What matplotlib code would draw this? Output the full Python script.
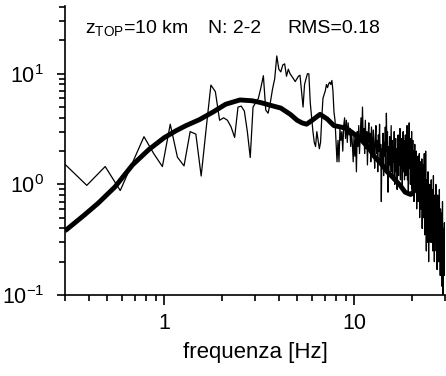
"""Spectrum comparison plot: observed (thin) vs model (thick), log-log."""

import matplotlib
matplotlib.use("Agg")
import matplotlib.pyplot as plt
import numpy as np
from matplotlib.ticker import FixedLocator, FixedFormatter, NullFormatter

plt.rcParams["font.family"] = ["Liberation Sans", "DejaVu Sans"]
plt.rcParams["mathtext.fontset"] = "custom"
plt.rcParams["mathtext.rm"] = "Liberation Sans"
plt.rcParams["mathtext.it"] = "Liberation Sans:italic"

# observed spectrum, sampled every df Hz (k = 3 .. 307)
df = 0.09765625
obs_freq = np.arange(3, 308) * df
obs_amp = [
    1.58, 0.98, 1.45, 0.88, 1.6, 2.7, 1.9, 1.45, 3.5, 1.76,
    1.47, 3.0, 2.85, 1.19, 3.2, 7.9, 6.9, 3.8, 4.0, 3.8,
    3.3, 2.66, 5.0, 5.1, 4.6, 3.0, 1.75, 5.0, 5.5, 6.0,
    7.5, 9.6, 4.7, 4.4, 5.5, 7.3, 9.0, 14.5, 11.0, 10.4,
    12.0, 12.3, 9.5, 11.0, 10.0, 9.5, 9.0, 8.5, 9.0, 9.5,
    9.7, 7.0, 5.0, 8.0, 9.0, 10.0, 10.0, 5.5, 4.0, 3.0,
    2.4, 2.2, 3.0, 2.5, 2.1, 2.4, 4.0, 6.0, 6.5, 7.0,
    8.0, 7.5, 8.1, 8.4, 8.0, 8.7, 7.0, 4.5, 3.8, 2.4,
    1.6, 2.5, 1.6, 3.2, 2.5, 3.0, 2.0, 3.4, 4.0, 2.6,
    3.8, 2.4, 3.6, 2.8, 3.2, 2.2, 3.0, 2.3, 1.6, 2.8,
    1.8, 2.6, 1.3, 3.0, 2.2, 3.4, 1.9, 2.8, 4.0, 2.4,
    5.0, 2.6, 3.2, 1.9, 3.8, 2.1, 3.0, 1.5, 2.7, 3.6,
    2.0, 2.9, 1.6, 3.3, 2.4, 1.8, 3.1, 2.2, 1.4, 2.6,
    3.4, 1.9, 2.5, 1.3, 2.8, 2.0, 3.5, 1.6, 2.3, 0.7,
    2.1, 1.5, 2.9, 1.2, 2.4, 1.8, 3.3, 1.4, 4.4, 2.0,
    3.0, 0.85, 2.2, 1.5, 2.7, 1.2, 2.0, 3.4, 1.3, 2.5,
    1.1, 2.2, 1.6, 3.0, 1.0, 1.9, 2.6, 1.3, 2.1, 0.9,
    1.8, 2.8, 1.2, 2.3, 1.5, 3.2, 1.1, 2.0, 1.4, 2.6,
    1.0, 2.2, 3.0, 1.3, 2.5, 1.1, 1.9, 2.8, 1.2, 2.0,
    1.5, 3.4, 1.1, 2.4, 0.8, 2.0, 3.6, 1.4, 2.6, 1.0,
    2.2, 1.3, 3.0, 0.9, 1.8, 2.5, 1.1, 2.0, 0.7, 1.6,
    2.3, 0.9, 1.7, 1.2, 2.0, 0.6, 1.5, 1.0, 1.8, 0.7,
    1.4, 0.9, 1.9, 0.5, 1.2, 1.6, 0.6, 1.3, 0.8, 1.7,
    0.4, 1.1, 0.7, 1.5, 0.5, 1.0, 1.9, 0.35, 1.2, 0.6,
    2.0, 0.8, 0.25, 1.1, 0.5, 0.9, 0.3, 1.3, 0.6, 0.2,
    0.9, 0.4, 1.0, 0.5, 0.3, 0.8, 0.45, 1.1, 0.3, 0.7,
    0.4, 0.9, 0.25, 0.6, 1.2, 0.35, 0.5, 0.2, 0.8, 0.4,
    0.6, 0.3, 1.0, 0.25, 0.5, 0.7, 0.17, 0.45, 0.8, 0.3,
    0.5, 0.2, 0.65, 0.35, 0.9, 0.25, 0.45, 0.15, 0.6, 0.3,
    0.4, 0.2, 0.55, 0.12, 0.35, 0.7, 0.25, 0.1, 0.4, 0.2,
    0.3, 0.15, 0.45, 0.2, 0.25,
]

# model spectrum
model_freq = [
    0.3, 0.38, 0.45, 0.55, 0.68, 0.83, 1.0, 1.15, 1.3, 1.53, 1.8,
    2.1, 2.5, 2.9, 3.2, 3.6, 4.1, 4.6, 5.0, 5.3, 5.6,
    6.0, 6.6, 7.2, 7.8, 8.5, 9.1, 9.6, 10.7, 12.0, 12.7,
    14.0, 14.9, 16.0, 17.5, 18.5, 19.8, 21.0, 22.3, 23.5, 24.2,
    25.5, 27.3, 28.5, 30.0,
]
model_amp = [
    0.38, 0.53, 0.68, 0.95, 1.5, 2.07, 2.65, 3.05, 3.4, 3.85, 4.5,
    5.3, 5.8, 5.7, 5.5, 5.2, 4.9, 4.3, 3.8, 3.6, 3.5,
    3.8, 4.3, 3.9, 3.4, 3.3, 3.2, 3.0, 2.6, 2.1, 1.8,
    1.5, 1.3, 1.15, 0.97, 0.85, 0.81, 0.9, 0.84, 0.6, 0.48,
    0.4, 0.32, 0.28, 0.22,
]

x_ticks = [1, 10]
x_tick_labels = ["1", "10"]
y_ticks = [0.1, 1, 10]
y_tick_labels = [r"$\mathregular{10^{-1}}$", r"$\mathregular{10^{0}}$",
                 r"$\mathregular{10^{1}}$"]

assert len(obs_freq) == len(obs_amp)

fig = plt.figure(figsize=(4.46, 3.76), dpi=100)
ax = fig.add_axes([65 / 446, 1 - 295 / 376, 380 / 446, 289 / 376])

ax.plot(obs_freq, obs_amp, color="black", linewidth=0.9)
ax.plot(model_freq, model_amp, color="black", linewidth=3.5,
        solid_capstyle="butt")

ax.set_xscale("log")
ax.set_yscale("log")
ax.set_xlim(0.3, 30)
ax.set_ylim(0.1, 41)

ax.spines["top"].set_visible(False)
ax.spines["right"].set_visible(False)
for side in ("left", "bottom"):
    ax.spines[side].set_linewidth(1.2)

ax.xaxis.set_major_locator(FixedLocator(x_ticks))
ax.xaxis.set_major_formatter(FixedFormatter(x_tick_labels))
minor_x = [m * d for d in (0.1, 1, 10) for m in range(2, 10) if 0.3 <= m * d <= 30]
ax.xaxis.set_minor_locator(FixedLocator(minor_x))
ax.xaxis.set_minor_formatter(NullFormatter())

ax.yaxis.set_major_locator(FixedLocator(y_ticks))
ax.yaxis.set_major_formatter(FixedFormatter(y_tick_labels))
minor_y = [m * d for d in (0.1, 1, 10) for m in range(2, 10) if m * d <= 41]
ax.yaxis.set_minor_locator(FixedLocator(minor_y))
ax.yaxis.set_minor_formatter(NullFormatter())

ax.tick_params(axis="both", which="major", direction="out", width=1.2,
               labelsize=15.5, colors="black")
ax.tick_params(axis="x", which="major", length=7, pad=6)
ax.tick_params(axis="y", which="major", length=6, pad=9)
ax.tick_params(axis="both", which="minor", direction="out", width=1.2, length=4.5)

ax.set_xlabel("frequenza [Hz]", fontsize=16, labelpad=6)

title_y = 1 - 33 / 376
fig.text(85 / 446, title_y, r"z$_{\mathregular{TOP}}$=10 km", fontsize=14,
         va="baseline", ha="left")
fig.text(208 / 446, title_y, "N: 2-2", fontsize=14, va="baseline", ha="left")
fig.text(287 / 446, title_y, "RMS=0.18", fontsize=14, va="baseline", ha="left")

fig.savefig("out.png", dpi=100)
plt.close(fig)
